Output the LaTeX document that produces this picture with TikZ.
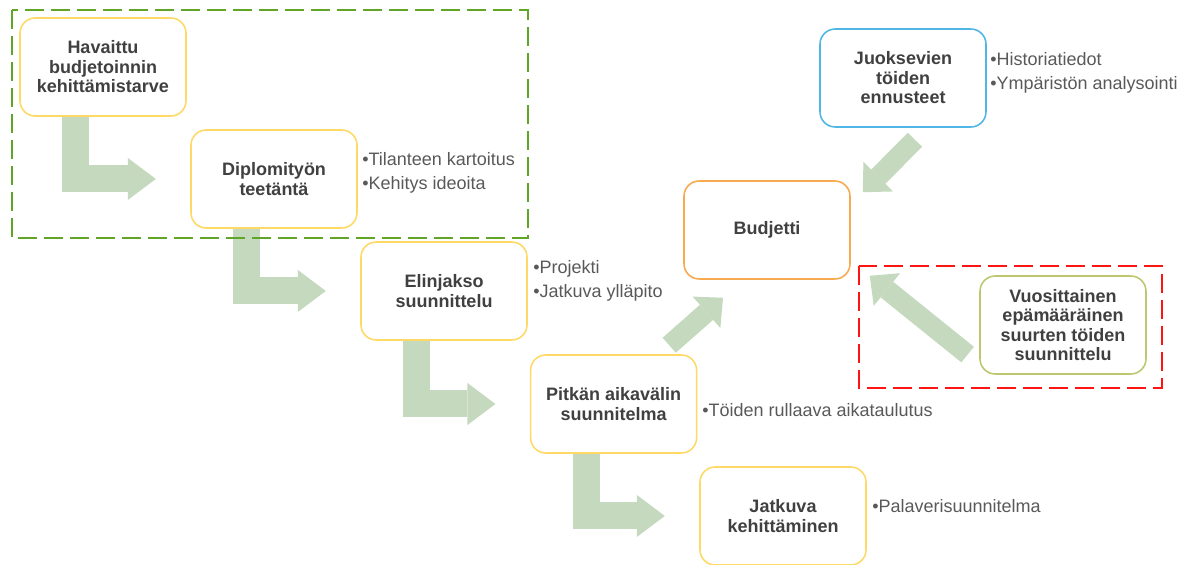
\documentclass[tikz,border=0pt]{standalone}
\usepackage{fontspec}
\setmainfont{Liberation Sans}
\usepackage{tikz}
\definecolor{boxtext}{RGB}{64,64,64}
\definecolor{bullettext}{RGB}{89,89,89}
\definecolor{stepyellow}{RGB}{255,217,102}
\definecolor{budgetorange}{RGB}{247,170,80}
\definecolor{forecastblue}{RGB}{80,182,230}
\definecolor{annualolive}{RGB}{190,198,110}
\definecolor{flowgreen}{RGB}{197,217,190}
\definecolor{framegreen}{RGB}{96,165,40}
\definecolor{framered}{RGB}{255,20,20}
\usetikzlibrary{arrows.meta}

\begin{document}
\begin{tikzpicture}[
    phase/.style={draw=stepyellow, line width=1.1pt, rounded corners=0.38cm,
                  fill=white, minimum width=4.15cm, minimum height=2.45cm,
                  align=center, text=boxtext,
                  font=\fontsize{12.8}{13.9}\selectfont\bfseries},
    notes/.style={anchor=base west, align=left, inner sep=0pt, text=bullettext,
                  font=\fontsize{12.8}{17.6}\selectfont},
    bentflow/.style={draw=flowgreen, line width=0.675cm,
                     -{Triangle[width=1.05cm, length=0.7cm, line width=0pt]}},
    tiltflow/.style={draw=flowgreen, line width=0.5cm,
                     -{Triangle[width=1.05cm, length=0.55cm, line width=0pt]}},
    groupframe/.style={line width=1.5pt, dash pattern=on 13.5pt off 5pt}
]
    \useasboundingbox (0,0) rectangle (29.925,-14.125);

    % Phases of the work
    \node[phase] (havaittu) at (2.575,-1.675) {Havaittu\\budjetoinnin\\kehittämistarve};
    \node[phase] (diplo) at (6.85,-4.475) {Diplomityön\\teetäntä};
    \node[phase] (elinjakso) at (11.1,-7.275) {Elinjakso\\suunnittelu};
    \node[phase] (pitkan) at (15.34,-10.1) {Pitkän aikavälin\\suunnitelma};
    \node[phase] (jatkuva) at (19.575,-12.9) {Jatkuva\\kehittäminen};

    % Budget and its inputs
    \node[phase, draw=budgetorange] (budjetti) at (19.175,-5.75) {Budjetti};
    \node[phase, draw=forecastblue] (juoksevien) at (22.575,-1.95) {Juoksevien\\töiden\\ennusteet};
    \node[phase, draw=annualolive] (vuosittainen) at (26.575,-8.125) {Vuosittainen\\epämääräinen\\suurten töiden\\suunnittelu};

    % Bullet notes (placed by the baseline of their last line)
    \node[notes] (diplonotes) at (9.05,-4.75) {•Tilanteen kartoitus\\•Kehitys ideoita};
    \node[notes] (elinnotes) at (13.325,-7.45) {•Projekti\\•Jatkuva ylläpito};
    \node[notes] (pitkanotes) at (17.55,-10.425) {•Töiden rullaava aikataulutus};
    \node[notes] (jatkuvanotes) at (21.8,-12.825) {•Palaverisuunnitelma};
    \node[notes] (juoksnotes) at (24.75,-2.25) {•Historiatiedot\\•Ympäristön analysointi};

    % Step arrows
    \draw[bentflow] ([xshift=-0.68cm]havaittu.south) |- ([xshift=-0.86cm]diplo.west);
    \draw[bentflow] ([xshift=-0.68cm]diplo.south) |- ([xshift=-0.86cm]elinjakso.west);
    \draw[bentflow] ([xshift=-0.68cm]elinjakso.south) |- ([xshift=-0.86cm]pitkan.west);
    \draw[bentflow] ([xshift=-0.68cm]pitkan.south) |- ([xshift=-0.86cm]jatkuva.west);

    % Arrows into the budget
    \draw[tiltflow] ([shift={(1.39,0.225)}]pitkan.north) -- ([shift={(-1.1,-0.45)}]budjetti.south);
    \draw[tiltflow] ([shift={(0.3,-0.3)}]juoksevien.south) -- ([shift={(0.3,-0.3)}]budjetti.north east);
    \draw[tiltflow] ([shift={(-0.29,-0.74)}]vuosittainen.west) -- ([shift={(0.475,0.1)}]budjetti.south east);

    % Groupings
    \draw[groupframe, framegreen] (0.3,-0.25) rectangle (13.2,-5.95);
    \draw[groupframe, framered] (21.475,-6.65) rectangle (29.05,-9.7);
\end{tikzpicture}
\end{document}
